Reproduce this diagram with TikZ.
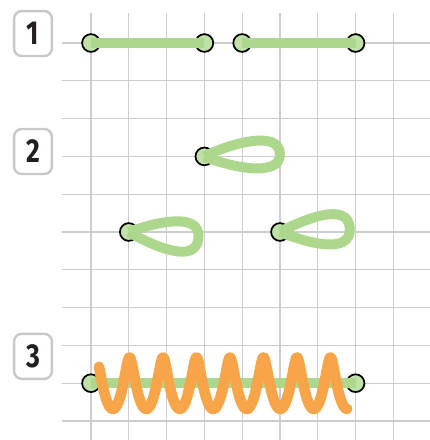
\documentclass[tikz,border=0pt]{standalone}
\usepackage{fontspec}
\newfontfamily\numfont{Fira Sans}[FakeStretch=0.8]
\usetikzlibrary{positioning}
\definecolor{gridgray}{RGB}{205,205,205}
\definecolor{boxgray}{RGB}{200,200,200}
\definecolor{threadgreen}{RGB}{172,215,140}
\definecolor{dotgreen}{RGB}{192,226,168}
\definecolor{coilorange}{RGB}{247,165,72}
\definecolor{numblack}{RGB}{35,31,32}

\begin{document}
\begin{tikzpicture}[
    node distance = 0mm,
every node/.style = {inner sep=0pt},
     dot/.style = {circle, draw=black, line width=1.3pt, fill=dotgreen,
                   minimum size=4.7mm},
  thread/.style = {threadgreen, line width=7.5pt},
    coil/.style = {coilorange, line width=8pt, line cap=round, line join=round},
gridline/.style = {gridgray, line width=0.9pt},
  numbox/.style = {draw=boxgray, line width=1.8pt, rounded corners=2mm,
                   minimum width=10mm, minimum height=11.9mm, text=numblack,
                   font=\numfont\bfseries\fontsize{25}{25}\selectfont}]
\useasboundingbox (-2.407,-10.503) rectangle (8.968,1.138);
% grid
\foreach \i in {0,...,8}
    \draw[gridline] (\i,0.794) -- (\i,-10.503);
\foreach \j in {0,...,10}
    \draw[gridline] (-0.767,-\j) -- (8.968,-\j);
% step numbers
\node[numbox]   (n1) at (-1.534,0.25)  {1};
\node[numbox]   (n2) at (-1.534,-2.87) {2};
\node[numbox]   (n3) at (-1.534,-8.29) {3};
% 1: two straight stitches
\node[dot]      (a1) at (0,0) {};
\node[dot]      (b1) at (3,0) {};
\node[dot]      (a2) at (4,0) {};
\node[dot]      (b2) at (7,0) {};
    \draw[thread] (a1.center) -- (b1.center);
    \draw[thread] (a2.center) -- (b2.center);
% 2: loops
\node[dot]      (l1) at (3,-3) {};
\node[dot]      (l2) at (1,-5) {};
\node[dot]      (l3) at (5,-5) {};
    \draw[thread] (l1.center) to[out=27,in=92,looseness=0.85] ++(2:2.0)
                  to[out=-88,in=-23,looseness=0.85] (l1.center);
    \draw[thread] (l2.center) to[out=20,in=85,looseness=1.0] ++(-5:1.85)
                  to[out=-95,in=-30,looseness=1.0] (l2.center);
    \draw[thread] (l3.center) to[out=28,in=93,looseness=1.0] ++(3:1.85)
                  to[out=-87,in=-22,looseness=1.0] (l3.center);
% 3: coil round the stitch
\node[dot]      (a3) at (0,-9) {};
\node[dot]      (b3) at (7,-9) {};
    \draw[thread] (a3.center) -- (b3.center);
    \draw[coil] plot[domain=-5.4:40.84, samples=500, smooth]
        ({1.02+0.141*\x-0.06*sin(\x r)}, {-9+0.68*cos(\x r)});
\end{tikzpicture}
\end{document}
